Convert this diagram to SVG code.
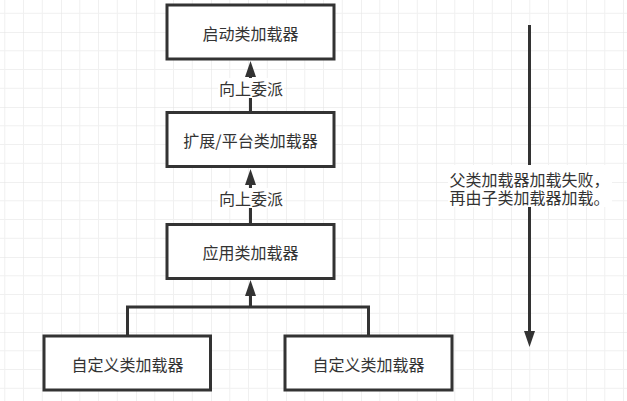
<svg xmlns="http://www.w3.org/2000/svg" width="627" height="401" viewBox="0 0 627 401">
  <defs>
    <pattern id="grid" x="61" y="32" width="75" height="75" patternUnits="userSpaceOnUse">
      <path d="M18.75,0 V75 M37.5,0 V75 M56.25,0 V75 M0,18.75 H75 M0,37.5 H75 M0,56.25 H75" stroke="#f0f0f0" stroke-width="1" fill="none"/>
      <path d="M0,0 V75 M0,0 H75" stroke="#e2e2e2" stroke-width="1" fill="none"/>
    </pattern>
    <marker id="arrow" viewBox="0 0 16 11" refX="0" refY="5.5" markerWidth="16" markerHeight="11" markerUnits="userSpaceOnUse" orient="auto">
      <path d="M0,0 L16,5.5 L0,11 Z" fill="#333333"/>
    </marker>
  </defs>
  <style>
    .box { fill: #ffffff; stroke: #333333; stroke-width: 3; }
    .edge { fill: none; stroke: #333333; stroke-width: 3; }
    .txt { font-family: "Noto Sans CJK SC", "Liberation Sans", sans-serif; font-size: 16px; fill: #333333; text-anchor: middle; dominant-baseline: central; }
    .lblbg { fill: #ffffff; }
  </style>
  <rect x="0" y="0" width="627" height="401" fill="#ffffff"/>
  <rect x="0" y="0" width="627" height="401" fill="url(#grid)"/>

  <g id="connectors">
    <path class="edge" d="M250.5,112 V77" marker-end="url(#arrow)"/>
    <path class="edge" d="M250.5,223.5 V185" marker-end="url(#arrow)"/>
    <path class="edge" d="M127.5,336 V307 H368.5 V336"/>
    <path class="edge" d="M250.5,307 V296" marker-end="url(#arrow)"/>
    <path class="edge" d="M529.5,25 V331" marker-end="url(#arrow)"/>
    <g id="label1">
      <rect class="lblbg" x="218" y="78" width="66" height="20"/>
      <text class="txt" x="251" y="87.5">向上委派</text>
    </g>
    <g id="label2">
      <rect class="lblbg" x="218" y="188" width="66" height="20"/>
      <text class="txt" x="251" y="197.5">向上委派</text>
    </g>
    <g id="label3">
      <rect class="lblbg" x="448" y="165" width="164" height="42"/>
      <text class="txt"><tspan x="529.5" y="178.5">父类加载器加载失败，</tspan><tspan x="529.5" y="197">再由子类加载器加载。</tspan></text>
    </g>
  </g>

  <g id="bootstrap">
    <rect class="box" x="167" y="5" width="167" height="54"/>
    <text class="txt" x="250.5" y="32.5">启动类加载器</text>
  </g>
  <g id="platform">
    <rect class="box" x="167" y="112.5" width="167" height="54"/>
    <text class="txt" x="250.5" y="140">扩展/平台类加载器</text>
  </g>
  <g id="application">
    <rect class="box" x="167" y="224.5" width="167" height="54"/>
    <text class="txt" x="250.5" y="252">应用类加载器</text>
  </g>
  <g id="custom1">
    <rect class="box" x="44" y="336" width="166.5" height="54"/>
    <text class="txt" x="127.5" y="363.5">自定义类加载器</text>
  </g>
  <g id="custom2">
    <rect class="box" x="285" y="336" width="167" height="54"/>
    <text class="txt" x="368.5" y="363.5">自定义类加载器</text>
  </g>
</svg>
